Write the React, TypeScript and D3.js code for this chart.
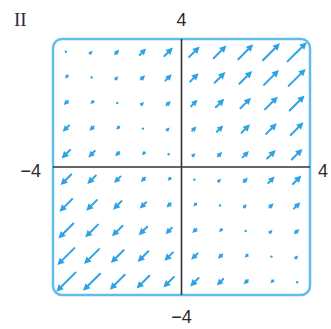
import React, { useEffect, useRef } from 'react';
import * as d3 from 'd3';

// grid sample positions (data units)
const xs = [-3.6, -2.8, -2.0, -1.2, -0.4, 0.4, 1.2, 2.0, 2.8, 3.6];
const ys = [3.6, 2.8, 2.0, 1.2, 0.4, -0.4, -1.2, -2.0, -2.8, -3.6];

// arrow strength at each grid point, rows top -> bottom, arrows point along (1,1)
const strength = [
  [0, 0.8, 1.6, 2.4, 3.2, 4.0, 4.8, 5.6, 6.4, 7.2],
  [-0.8, 0, 0.8, 1.6, 2.4, 3.2, 4.0, 4.8, 5.6, 6.4],
  [-1.6, -0.8, 0, 0.8, 1.6, 2.4, 3.2, 4.0, 4.8, 5.6],
  [-2.4, -1.6, -0.8, 0, 0.8, 1.6, 2.4, 3.2, 4.0, 4.8],
  [-3.2, -2.4, -1.6, -0.8, 0, 0.8, 1.6, 2.4, 3.2, 4.0],
  [-4.0, -3.2, -2.4, -1.6, -0.8, 0, 0.8, 1.6, 2.4, 3.2],
  [-4.8, -4.0, -3.2, -2.4, -1.6, -0.8, 0, 0.8, 1.6, 2.4],
  [-5.6, -4.8, -4.0, -3.2, -2.4, -1.6, -0.8, 0, 0.8, 1.6],
  [-6.4, -5.6, -4.8, -4.0, -3.2, -2.4, -1.6, -0.8, 0, 0.8],
  [-7.2, -6.4, -5.6, -4.8, -4.0, -3.2, -2.4, -1.6, -0.8, 0],
];

const axisLabels = { top: '4', bottom: '\u22124', left: '\u22124', right: '4' };
const panelLabel = 'II';

const blue = '#2ea3e3';

const App = () => {
  const ref = useRef<SVGSVGElement>(null);

  useEffect(() => {
    const svg = d3.select(ref.current);
    svg.selectAll('*').remove();

    const x = d3.scaleLinear().domain([-4, 4]).range([53, 310]);
    const y = d3.scaleLinear().domain([-4, 4]).range([295, 39]);
    const k = 0.083; // data units per unit of strength

    // frame
    svg.append('rect')
      .attr('x', x(-4)).attr('y', y(4))
      .attr('width', x(4) - x(-4)).attr('height', y(-4) - y(4))
      .attr('rx', 9)
      .attr('fill', 'none')
      .attr('stroke', '#62bdee')
      .attr('stroke-width', 2.5);

    // axes
    svg.append('line')
      .attr('x1', x(-4)).attr('x2', x(4))
      .attr('y1', y(0)).attr('y2', y(0))
      .attr('stroke', '#333').attr('stroke-width', 1.6);
    svg.append('line')
      .attr('x1', x(0)).attr('x2', x(0))
      .attr('y1', y(4)).attr('y2', y(-4))
      .attr('stroke', '#333').attr('stroke-width', 1.6);

    const g = svg.append('g');
    ys.forEach((yv, i) => {
      xs.forEach((xv, j) => {
        const s = strength[i][j];
        const x1 = x(xv - (s * k) / 2), y1 = y(yv - (s * k) / 2);
        const x2 = x(xv + (s * k) / 2), y2 = y(yv + (s * k) / 2);
        const len = Math.hypot(x2 - x1, y2 - y1);
        if (len < 0.5) {
          g.append('circle').attr('cx', x(xv)).attr('cy', y(yv)).attr('r', 1.2).attr('fill', blue);
          return;
        }
        const ux = (x2 - x1) / len, uy = (y2 - y1) / len;
        const h = Math.min(7, 3 + len * 0.35);
        const w = h * 0.5;
        const bx = x2 - ux * h, by = y2 - uy * h;
        g.append('line')
          .attr('x1', x1).attr('y1', y1).attr('x2', bx).attr('y2', by)
          .attr('stroke', blue).attr('stroke-width', 2).attr('stroke-linecap', 'round');
        g.append('path')
          .attr('d', `M${x2},${y2}L${bx - uy * w},${by + ux * w}L${bx + uy * w},${by - ux * w}Z`)
          .attr('fill', blue);
      });
    });

    const lab = svg.append('g')
      .attr('font-family', 'Liberation Sans, Arial, sans-serif')
      .attr('font-size', 18)
      .attr('fill', '#2b2b2b');
    lab.append('text').attr('x', x(0)).attr('y', 26).attr('text-anchor', 'middle').text(axisLabels.top);
    lab.append('text').attr('x', x(0)).attr('y', 323).attr('text-anchor', 'middle').text(axisLabels.bottom);
    lab.append('text').attr('x', 41).attr('y', y(0) + 10).attr('text-anchor', 'end').text(axisLabels.left);
    lab.append('text').attr('x', 318).attr('y', y(0) + 10).attr('text-anchor', 'start').text(axisLabels.right);

    svg.append('text')
      .attr('x', 14).attr('y', 26)
      .attr('font-family', 'Liberation Serif, Times New Roman, serif')
      .attr('font-size', 19)
      .attr('fill', '#2a2a40')
      .text(panelLabel);
  }, []);

  return (
    <svg ref={ref} width={331} height={329}
      style={{ position: 'absolute', left: 0, top: 0, background: '#fff' }} />
  );
};

export default App;
